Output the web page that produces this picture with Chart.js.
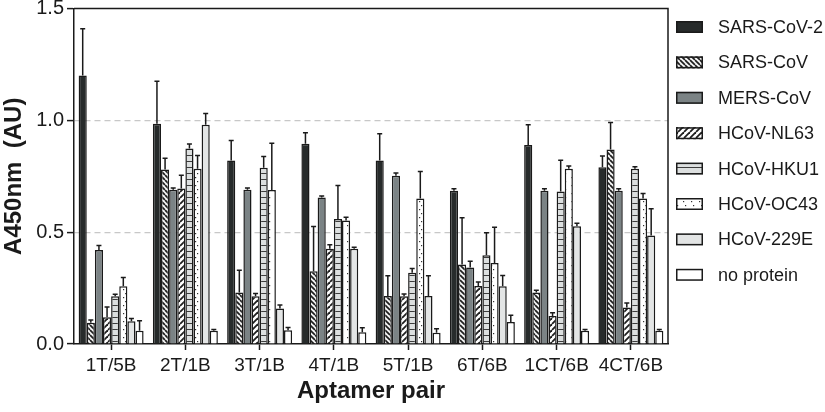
<!DOCTYPE html>
<html lang="en">
<head>
  <meta charset="UTF-8">
  <title>Aptamer pair A450</title>
  <script src="https://cdn.jsdelivr.net/npm/chart.js"></script>
  <style>
    body { margin: 0; background: #fff; }
    canvas { display: block; }
  </style>
</head>
<body>
  <canvas id="chart" width="825" height="412"></canvas>

  <script>
    // categories and series
    const pairs = ['1T/5B', '2T/1B', '3T/1B', '4T/1B', '5T/1B', '6T/6B', '1CT/6B', '4CT/6B'];
    const seriesNames = ['SARS-CoV-2', 'SARS-CoV', 'MERS-CoV', 'HCoV-NL63', 'HCoV-HKU1', 'HCoV-OC43', 'HCoV-229E', 'no protein'];

    const sars2 = [1.20, 0.985, 0.82, 0.895, 0.82, 0.685, 0.89, 0.79];
    const sars2Err = [0.21, 0.19, 0.09, 0.05, 0.12, 0.009, 0.09, 0.05];
    const sars = [0.095, 0.78, 0.23, 0.325, 0.215, 0.355, 0.23, 0.87];
    const sarsErr = [0.012, 0.05, 0.10, 0.20, 0.09, 0.21, 0.01, 0.12];
    const mers = [0.42, 0.69, 0.69, 0.655, 0.752, 0.342, 0.685, 0.685];
    const mersErr = [0.02, 0.008, 0.008, 0.007, 0.012, 0.028, 0.009, 0.009];
    const nl63 = [0.12, 0.695, 0.214, 0.426, 0.214, 0.259, 0.125, 0.163];
    const nl63Err = [0.045, 0.06, 0.012, 0.018, 0.01, 0.018, 0.015, 0.02];
    const hku1 = [0.214, 0.874, 0.788, 0.559, 0.319, 0.397, 0.682, 0.783];
    const hku1Err = [0.008, 0.02, 0.05, 0.15, 0.018, 0.10, 0.14, 0.01];
    const oc43 = [0.258, 0.783, 0.688, 0.552, 0.651, 0.362, 0.783, 0.651];
    const oc43Err = [0.039, 0.06, 0.21, 0.015, 0.12, 0.16, 0.013, 0.022];
    const e229 = [0.102, 0.98, 0.159, 0.426, 0.215, 0.258, 0.527, 0.485];
    const e229Err = [0.012, 0.05, 0.015, 0.007, 0.09, 0.048, 0.013, 0.12];
    const noProt = [0.059, 0.059, 0.062, 0.053, 0.050, 0.098, 0.059, 0.059];
    const noProtErr = [0.045, 0.006, 0.012, 0.02, 0.018, 0.03, 0.006, 0.006];

    const yTicks = [0, 0.5, 1.0, 1.5];

    // small tiles for the hatched fills
    function makePattern(w, h, draw) {
      const c = document.createElement('canvas');
      c.width = w; c.height = h;
      const g = c.getContext('2d');
      draw(g, w, h);
      return g.createPattern(c, 'repeat');
    }
    function stripes(dir, bg, fg, size, lw) {
      return makePattern(size, size, (g, w, h) => {
        g.fillStyle = bg; g.fillRect(0, 0, w, h);
        g.strokeStyle = fg; g.lineWidth = lw;
        for (const k of [-w, 0, w]) {
          g.beginPath();
          if (dir === 'back') { g.moveTo(k, 0); g.lineTo(k + w, h); }
          else { g.moveTo(k, h); g.lineTo(k + w, 0); }
          g.stroke();
        }
      });
    }
    const sarsFill = stripes('back', '#f2f2f2', '#1e1e1e', 5, 1.7);
    const nl63Fill = stripes('fwd', '#ffffff', '#1e1e1e', 6, 1.8);
    const hku1Fill = makePattern(8, 6, (g, w, h) => {
      g.fillStyle = '#dcdfdf'; g.fillRect(0, 0, w, h);
      g.fillStyle = '#3c3c3c'; g.fillRect(0, 5, w, 1.4);
    });
    const oc43Fill = makePattern(8, 8, (g, w, h) => {
      g.fillStyle = '#ffffff'; g.fillRect(0, 0, w, h);
      g.fillStyle = '#333';
      g.fillRect(3, 1, 1.2, 1.2);
      g.fillRect(5, 5, 1.2, 1.2);
    });

    const fills = ['#272b2b', sarsFill, '#7b8385', nl63Fill, hku1Fill, oc43Fill, '#e3e5e5', '#ffffff'];
    const values = [sars2, sars, mers, nl63, hku1, oc43, e229, noProt];
    const errors = [sars2Err, sarsErr, mersErr, nl63Err, hku1Err, oc43Err, e229Err, noProtErr];

    // one-sided error bars, plot frame and legend
    const extras = {
      id: 'extras',
      afterDatasetsDraw(chart) {
        const ctx = chart.ctx;
        const y = chart.scales.y;
        ctx.save();
        ctx.strokeStyle = '#1a1a1a';
        ctx.lineWidth = 1.5;
        chart.data.datasets.forEach((ds, di) => {
          const meta = chart.getDatasetMeta(di);
          meta.data.forEach((bar, i) => {
            const top = y.getPixelForValue(ds.data[i] + ds.err[i]);
            ctx.beginPath();
            ctx.moveTo(bar.x, bar.y);
            ctx.lineTo(bar.x, top);
            ctx.moveTo(bar.x - 2.5, top);
            ctx.lineTo(bar.x + 2.5, top);
            ctx.stroke();
          });
        });
        ctx.restore();
      },
      afterDraw(chart) {
        const ctx = chart.ctx;
        const a = chart.chartArea;
        ctx.save();
        ctx.strokeStyle = '#1a1a1a';
        ctx.lineWidth = 1.5;
        ctx.beginPath();
        ctx.moveTo(a.left, a.top);
        ctx.lineTo(a.right, a.top);
        ctx.lineTo(a.right, a.bottom);
        ctx.stroke();

        // legend
        ctx.font = '18px "Liberation Sans", Arial, sans-serif';
        ctx.textBaseline = 'middle';
        chart.data.datasets.forEach((ds, i) => {
          const cy = 27 + i * 35.4;
          ctx.fillStyle = ds.backgroundColor;
          ctx.fillRect(676, cy - 6, 27, 12);
          ctx.lineWidth = 1.5;
          ctx.strokeStyle = '#1a1a1a';
          ctx.strokeRect(676.75, cy - 5.25, 25.5, 10.5);
          ctx.fillStyle = '#1a1a1a';
          ctx.fillText(ds.label, 718, cy + 1);
        });
        ctx.restore();
      }
    };

    new Chart(document.getElementById('chart'), {
      type: 'bar',
      data: {
        labels: pairs,
        datasets: seriesNames.map((name, i) => ({
          label: name,
          data: values[i],
          err: errors[i],
          backgroundColor: fills[i],
          borderColor: '#1a1a1a',
          borderWidth: 1.5,
          borderSkipped: 'bottom',
          categoryPercentage: 0.875,
          barPercentage: 1.0
        }))
      },
      options: {
        responsive: false,
        animation: false,
        devicePixelRatio: 1,
        layout: { padding: { top: 0, right: 157, left: 0, bottom: 0 } },
        plugins: {
          legend: { display: false },
          tooltip: { enabled: false }
        },
        scales: {
          x: {
            afterFit(scale) { scale.height = 68; },
            grid: {
              offset: false,
              drawOnChartArea: false,
              tickLength: 6,
              tickColor: '#1a1a1a',
              tickWidth: 1.5
            },
            border: { color: '#1a1a1a', width: 1.5 },
            ticks: {
              color: '#1a1a1a',
              padding: 4,
              font: { family: '"Liberation Sans", Arial, sans-serif', size: 19 }
            },
            title: {
              display: true,
              text: 'Aptamer pair',
              color: '#1a1a1a',
              padding: { top: 0, bottom: 6 },
              font: { family: '"Liberation Sans", Arial, sans-serif', size: 24, weight: 'bold' }
            }
          },
          y: {
            min: 0,
            max: 1.5,
            afterFit(scale) { scale.width = 74; },
            afterBuildTicks(scale) { scale.ticks = yTicks.map(v => ({ value: v })); },
            grid: {
              color: c => (c.tick && (c.tick.value === 0.5 || c.tick.value === 1)) ? '#c8c8c8' : 'rgba(0,0,0,0)',
              lineWidth: 1.2,
              tickLength: 7,
              tickColor: '#1a1a1a',
              tickWidth: 1.5
            },
            border: { color: '#1a1a1a', width: 1.5, dash: [6, 4] },
            ticks: {
              color: '#1a1a1a',
              padding: 3,
              callback: v => Number(v).toFixed(1),
              font: { family: '"Liberation Sans", Arial, sans-serif', size: 20, lineHeight: 0.55 }
            },
            title: {
              display: true,
              text: 'A450nm  (AU)',
              color: '#1a1a1a',
              padding: { top: 0, bottom: 0 },
              font: { family: '"Liberation Sans", Arial, sans-serif', size: 24, weight: 'bold' }
            }
          }
        }
      },
      plugins: [extras]
    });
  </script>
</body>
</html>
